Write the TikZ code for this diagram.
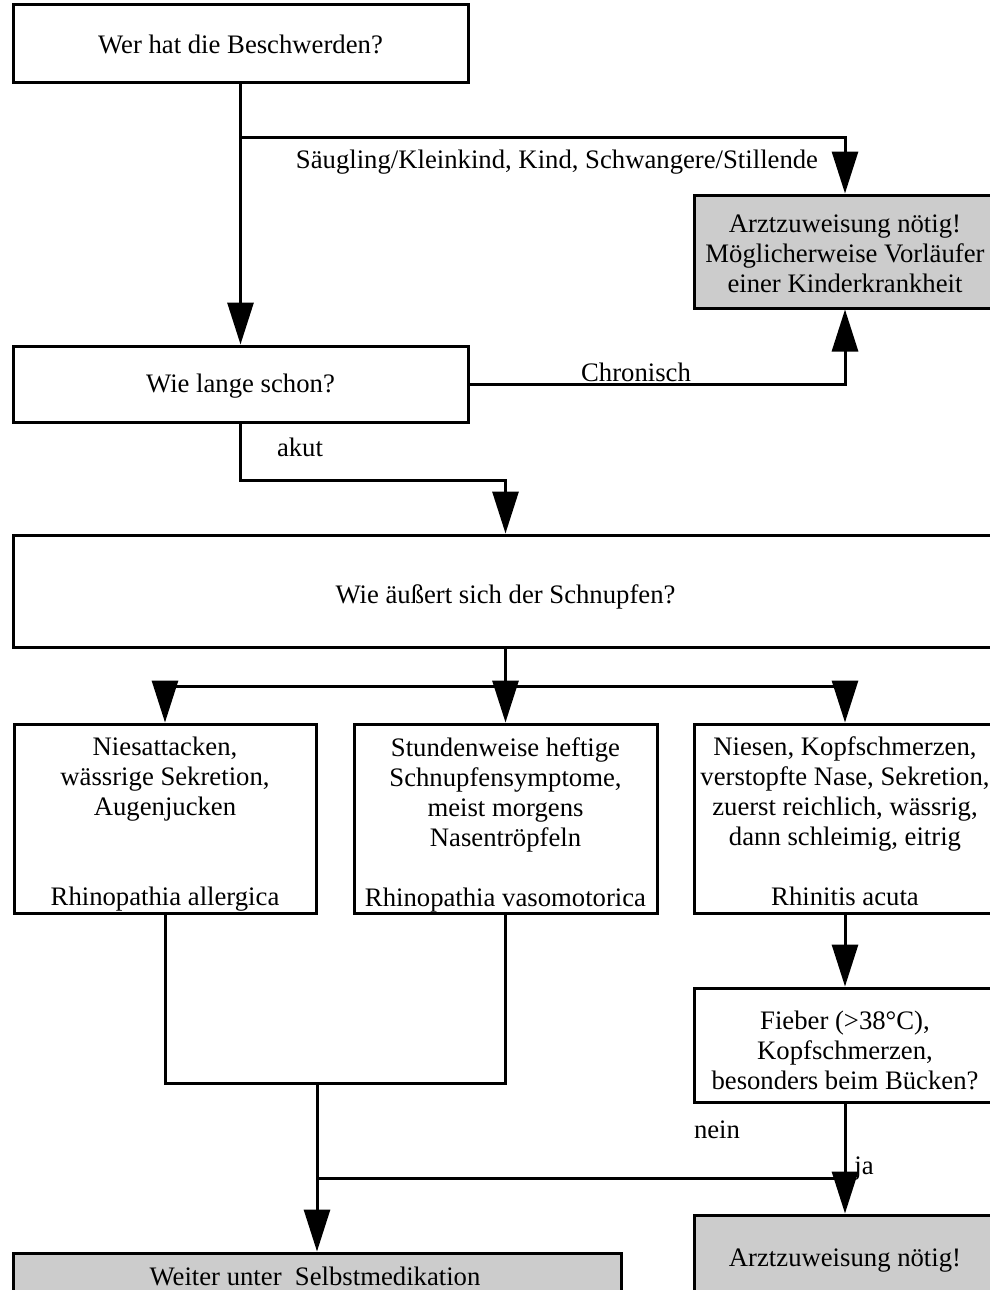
\documentclass[tikz,border=0pt]{standalone}
\usepackage{fontspec}
\setmainfont{Liberation Serif}
\usetikzlibrary{arrows.meta}
\definecolor{boxgray}{RGB}{204,204,204}
\begin{document}
\begin{tikzpicture}[x=1pt,y=-1pt,
  font=\fontsize{26.7}{30}\selectfont,
  box/.style={draw=black, line width=3pt, rectangle, inner sep=0pt, fill=white},
  graybox/.style={box, fill=boxgray},
  txt/.style={inner sep=0pt, align=center},
  conn/.style={line width=3pt},
  arr/.style={conn, -{Triangle[length=42pt,width=26pt]}},
  lbl/.style={inner sep=0pt, anchor=base}]
\useasboundingbox (0,0) rectangle (990,1290);
\clip (0,0) rectangle (990,1290);
\fill[white] (0,0) rectangle (990,1290);

% boxes
\node[box, minimum width=455pt, minimum height=77pt] (A) at (240.5,43.5) {};
\node[box, minimum width=455pt, minimum height=76pt] (B) at (240.5,384) {};
\node[graybox, minimum width=302pt, minimum height=113pt] (C) at (845,251.5) {};
\node[box, minimum width=985pt, minimum height=112pt] (D) at (505.5,591) {};
\node[box, minimum width=302pt, minimum height=189pt] (E) at (165,818.5) {};
\node[box, minimum width=303pt, minimum height=189pt] (F) at (505.5,818.5) {};
\node[box, minimum width=302pt, minimum height=189pt] (G) at (845,818.5) {};
\node[box, minimum width=302pt, minimum height=114pt] (H) at (845,1045) {};
\node[graybox, minimum width=302pt, minimum height=84pt] (I) at (845,1257) {};
\node[graybox, minimum width=608pt, minimum height=44pt] (J) at (317,1275) {};

% box texts
\node[txt] (At) at ([yshift=-1pt]A.center) {Wer hat die Beschwerden?};
\node[txt] (Bt) at ([yshift=-2pt]B.center) {Wie lange schon?};
\node[txt] (Ct) at ([yshift=-2pt]C.center) {Arztzuweisung nötig!\\Möglicherweise Vorläufer\\einer Kinderkrankheit};
\node[txt] (Dt) at ([yshift=-6pt]D.center) {Wie äußert sich der Schnupfen?};
\node[txt] (Et) at ([yshift=-6pt]E.center) {Niesattacken,\\wässrige Sekretion,\\Augenjucken\\[60pt]Rhinopathia allergica};
\node[txt] (Ft) at ([yshift=-6pt]F.center) {Stundenweise heftige\\Schnupfensymptome,\\meist morgens\\Nasentröpfeln\\[30pt]Rhinopathia vasomotorica};
\node[txt] (Gt) at ([yshift=-3pt]G.center) {Niesen, Kopfschmerzen,\\verstopfte Nase, Sekretion,\\zuerst reichlich, wässrig,\\dann schleimig, eitrig\\[30pt]Rhinitis acuta};
\node[txt] (Ht) at ([yshift=-5pt]H.center) {Fieber (>38°C),\\Kopfschmerzen,\\besonders beim Bücken?};
\node[txt] (It) at ([yshift=-4pt]I.center) {Arztzuweisung nötig!};
\node[txt] (Jt) at ([xshift=-2pt,yshift=-1pt]J.center) {Weiter unter\ \ Selbstmedikation};

% junction coordinates
\coordinate (j1) at (240.5,137);
\coordinate (jD) at (505.5,686);
\coordinate (jEF) at (317,1083);
\coordinate (jN) at (317,1178);

% connectors
\draw[arr] (A) -- (B);
\draw[arr] (j1) -| (C.north);
\draw[arr] (B.east) -| (C.south);
\draw[arr] (B.south) -- ++(0,57) -| (D.north);
\draw[conn] (D.south) -- (jD);
\draw[arr] (jD) -| (E.north);
\draw[arr] (jD) -| (G.north);
\draw[arr] (jD) -- (F.north);
\draw[arr] (G) -- (H);
\draw[arr] (H) -- (I);
\draw[conn] (E.south) -- (E.south |- jEF) -| (F.south);
\draw[arr] (jEF) -- (J.north);
\draw[conn] (jN) -- (jN -| I.north);

% labels
\node[lbl] (l1) at (557,168) {Säugling/Kleinkind, Kind, Schwangere/Stillende};
\node[lbl] (l2) at (636,381) {Chronisch};
\node[lbl] (l3) at (300,456) {akut};
\node[lbl] (l4) at (717,1138) {nein};
\node[lbl] (l5) at (864,1174) {ja};
\end{tikzpicture}
\end{document}
